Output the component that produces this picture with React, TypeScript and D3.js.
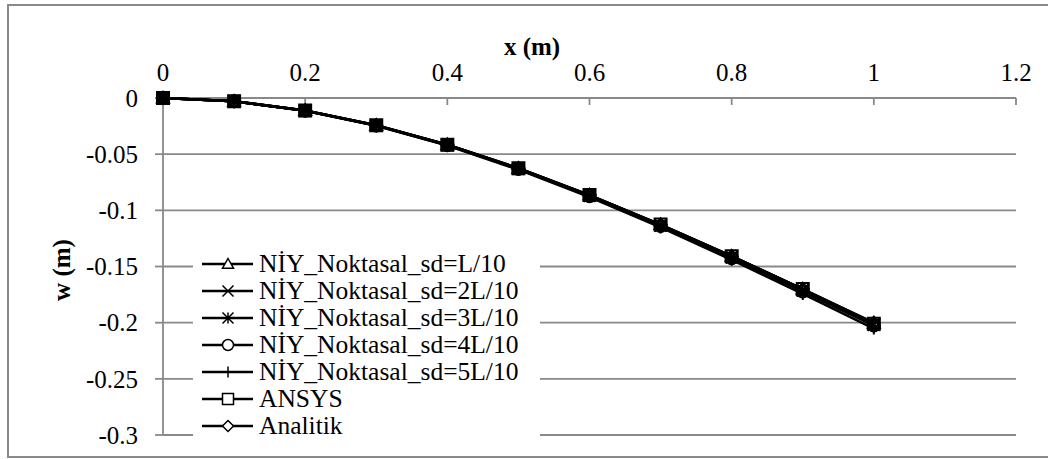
import React from "react";
import * as d3 from "d3";

const xValues = [0, 0.1, 0.2, 0.3, 0.4, 0.5, 0.6, 0.7, 0.8, 0.9, 1.0];
const sdL1 = [0, -0.0029, -0.0112, -0.0243, -0.0416, -0.0625, -0.0864, -0.1127, -0.1408, -0.1701, -0.2005];
const sdL2 = [0, -0.0029, -0.0112, -0.0244, -0.0418, -0.0628, -0.0868, -0.1132, -0.1414, -0.1709, -0.2012];
const sdL3 = [0, -0.0029, -0.0113, -0.0245, -0.0419, -0.0630, -0.0871, -0.1136, -0.1419, -0.1715, -0.2018];
const sdL4 = [0, -0.0030, -0.0113, -0.0246, -0.0421, -0.0633, -0.0875, -0.1141, -0.1426, -0.1723, -0.2026];
const sdL5 = [0, -0.0030, -0.0114, -0.0248, -0.0424, -0.0638, -0.0882, -0.1152, -0.1441, -0.1744, -0.2052];
const ansys = [0, -0.0029, -0.0112, -0.0243, -0.0416, -0.0625, -0.0864, -0.1127, -0.1408, -0.1701, -0.2010];
const analitik = [0, -0.0029, -0.0112, -0.0243, -0.0416, -0.0625, -0.0864, -0.1127, -0.1408, -0.1701, -0.2000];

const seriesNames = [
  "NİY_Noktasal_sd=L/10",
  "NİY_Noktasal_sd=2L/10",
  "NİY_Noktasal_sd=3L/10",
  "NİY_Noktasal_sd=4L/10",
  "NİY_Noktasal_sd=5L/10",
  "ANSYS",
  "Analitik",
];
const seriesValues = [sdL1, sdL2, sdL3, sdL4, sdL5, ansys, analitik];
const markerTypes = ["triangle", "x", "asterisk", "circle", "plus", "square", "diamond"];

const xTicks = [0, 0.2, 0.4, 0.6, 0.8, 1, 1.2];
const yTicks = [0, -0.05, -0.1, -0.15, -0.2, -0.25, -0.3];

const FONT = "'Liberation Serif', 'Times New Roman', serif";

function markerPath(type: string, r: number): string {
  switch (type) {
    case "triangle":
      return `M0,${-r}L${r},${r * 0.75}L${-r},${r * 0.75}Z`;
    case "x":
      return `M${-r},${-r}L${r},${r}M${-r},${r}L${r},${-r}`;
    case "asterisk":
      return `M${-r},${-r}L${r},${r}M${-r},${r}L${r},${-r}M0,${-r}L0,${r}`;
    case "circle":
      return `M${r},0A${r},${r} 0 1,1 ${-r},0A${r},${r} 0 1,1 ${r},0Z`;
    case "plus":
      return `M${-r},0L${r},0M0,${-r}L0,${r}`;
    case "square":
      return `M${-r},${-r}L${r},${-r}L${r},${r}L${-r},${r}Z`;
    case "diamond":
      return `M0,${-r}L${r},0L0,${r}L${-r},0Z`;
  }
  return "";
}

export default function App() {
  const W = 1048;
  const H = 459;
  const x = d3.scaleLinear().domain([0, 1.2]).range([163, 1016]);
  const y = d3.scaleLinear().domain([0, -0.3]).range([98, 435]);
  const line = d3
    .line<number>()
    .x((_, i) => x(xValues[i]))
    .y((d) => y(d));

  const grid = "#898989";
  const legX = 193;
  const legY = 249;
  const rowH = 27;

  return (
    <svg
      width={W}
      height={H}
      style={{ position: "absolute", left: 0, top: 0, background: "#fff" }}
      fontFamily={FONT}
    >
      <rect x={8} y={5} width={1060} height={452} fill="#fff" stroke={grid} strokeWidth={2} />
      {yTicks.map((t) => (
        <line key={"g" + t} x1={x(0)} x2={x(1.2)} y1={y(t)} y2={y(t)} stroke={grid} strokeWidth={1.8} />
      ))}
      <line x1={x(0)} x2={x(0)} y1={y(0)} y2={y(-0.3)} stroke={grid} strokeWidth={1.8} />
      {yTicks.map((t) => (
        <line key={"yt" + t} x1={x(0) - 8} x2={x(0)} y1={y(t)} y2={y(t)} stroke={grid} strokeWidth={1.8} />
      ))}
      {yTicks.map((t) => (
        <text key={"yl" + t} x={138} y={y(t)} dy="0.35em" textAnchor="end" fontSize={25} fill="#000">
          {t === 0 ? "0" : String(t)}
        </text>
      ))}
      {xTicks.map((t) => (
        <line key={"xt" + t} x1={x(t)} x2={x(t)} y1={y(0)} y2={y(0) + 7} stroke={grid} strokeWidth={1.8} />
      ))}
      {xTicks.map((t) => (
        <text key={"xl" + t} x={x(t)} y={81} textAnchor="middle" fontSize={25} fill="#000">
          {String(t)}
        </text>
      ))}
      <text x={532} y={55} textAnchor="middle" fontSize={25} fontWeight="bold" fill="#000">
        x (m)
      </text>
      <text
        transform={`translate(70,${270}) rotate(-90)`}
        textAnchor="middle"
        fontSize={25}
        fontWeight="bold"
        fill="#000"
      >
        w (m)
      </text>
      {seriesValues.map((vals, si) => (
        <path key={"l" + si} d={line(vals) || ""} fill="none" stroke="#000" strokeWidth={2.5} />
      ))}
      {seriesValues.map((vals, si) =>
        vals.map((v, i) => (
          <path
            key={"m" + si + "-" + i}
            d={markerPath(markerTypes[si], 6)}
            transform={`translate(${x(xValues[i])},${y(v)})`}
            fill="none"
            stroke="#000"
            strokeWidth={2}
          />
        ))
      )}
      <rect x={legX} y={legY} width={347} height={192} fill="#fff" />
      {seriesNames.map((name, i) => {
        const cy = legY + 15 + i * rowH;
        return (
          <g key={"leg" + i}>
            <line x1={202} x2={253} y1={cy} y2={cy} stroke="#000" strokeWidth={2.5} />
            <path
              d={markerPath(markerTypes[i], 5.5)}
              transform={`translate(228,${cy})`}
              fill="#fff"
              stroke="#000"
              strokeWidth={1.5}
            />
            <text x={259} y={cy} dy="0.33em" fontSize={25.5} fill="#000">
              {name}
            </text>
          </g>
        );
      })}
    </svg>
  );
}
